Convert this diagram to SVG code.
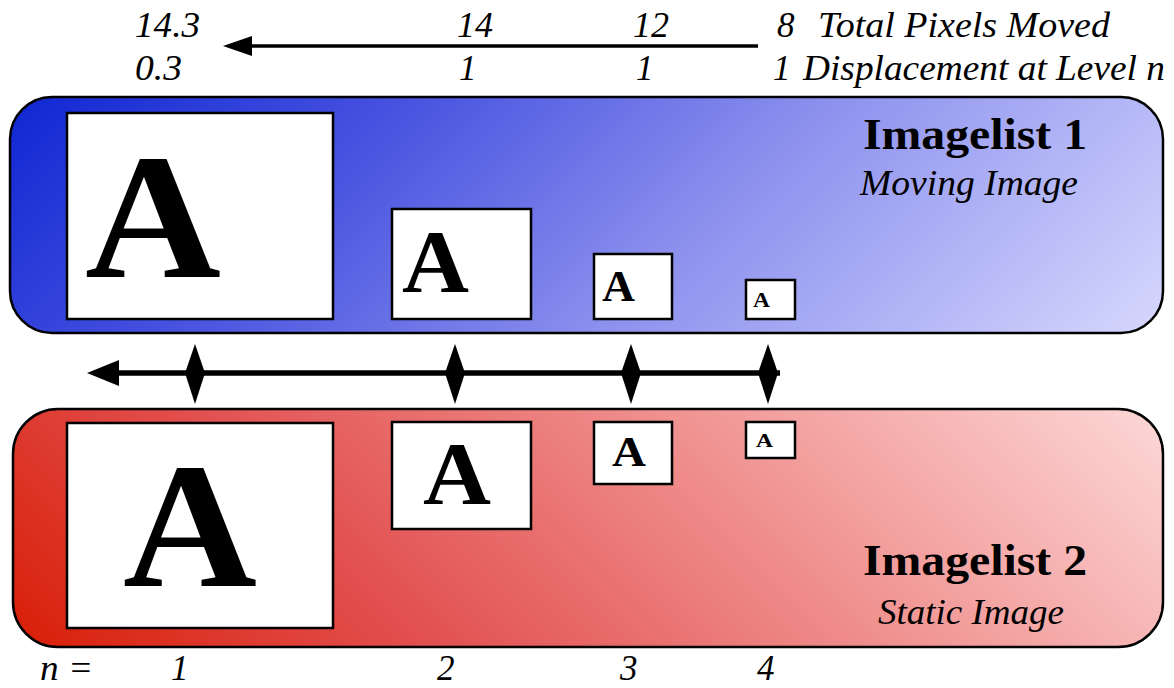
<svg xmlns="http://www.w3.org/2000/svg" width="1174" height="688" viewBox="0 0 1174 688">
<defs>
<linearGradient id="gBlue" gradientUnits="userSpaceOnUse" x1="10" y1="97" x2="705" y2="792">
<stop offset="0" stop-color="#0f26d2"/>
<stop offset="0.3" stop-color="#4a55e0"/>
<stop offset="0.6" stop-color="#8e92ee"/>
<stop offset="1" stop-color="#d6d8fd"/>
</linearGradient>
<linearGradient id="gRed" gradientUnits="userSpaceOnUse" x1="13" y1="647" x2="707" y2="-47">
<stop offset="0" stop-color="#d81e06"/>
<stop offset="0.3" stop-color="#e25050"/>
<stop offset="0.6" stop-color="#ee8a88"/>
<stop offset="1" stop-color="#fdd8d8"/>
</linearGradient>
<style>
.panel{stroke:#000;stroke-width:2.5}
.box{fill:#fff;stroke:#000;stroke-width:2.5}
.A{font-weight:bold;fill:#000}
.num{font-style:italic;font-size:35px;fill:#000}
.title{font-weight:bold;font-size:45px;fill:#000}
.sub{font-style:italic;font-size:36px;fill:#000}
.line{stroke:#000;fill:none}
.diamond{fill:#000}
</style>
</defs>

<g font-family="Liberation Serif, Tinos, Times New Roman, serif">
<g id="header">
<text class="num" x="135" y="37" textLength="65" lengthAdjust="spacingAndGlyphs">14.3</text>
<text class="num" x="457" y="37" textLength="36" lengthAdjust="spacingAndGlyphs">14</text>
<text class="num" x="633" y="37" textLength="36" lengthAdjust="spacingAndGlyphs">12</text>
<text class="num" x="777" y="37">8</text>
<text class="num" x="818" y="37" textLength="292" lengthAdjust="spacingAndGlyphs">Total Pixels Moved</text>
<text class="num" x="135" y="80" textLength="47" lengthAdjust="spacingAndGlyphs">0.3</text>
<text class="num" x="459" y="80">1</text>
<text class="num" x="636" y="80">1</text>
<text class="num" x="773" y="80">1</text>
<text class="num" x="803" y="80" textLength="362" lengthAdjust="spacingAndGlyphs">Displacement at Level n</text>
</g>

<g id="imagelist1">
<rect class="panel" x="10" y="97" width="1153" height="236" rx="42" ry="42" fill="url(#gBlue)"/>
<text class="title" x="863" y="149" textLength="224" lengthAdjust="spacingAndGlyphs">Imagelist 1</text>
<text class="sub" x="860" y="195" textLength="218" lengthAdjust="spacingAndGlyphs">Moving Image</text>
</g>
<g id="img1-1"><rect class="box" x="67" y="113" width="266" height="206"/><text class="A" x="85" y="277" font-size="179" textLength="136" lengthAdjust="spacingAndGlyphs">A</text></g>
<g id="img1-2"><rect class="box" x="392" y="209" width="139" height="110"/><text class="A" x="402" y="291" font-size="89" textLength="67" lengthAdjust="spacingAndGlyphs">A</text></g>
<g id="img1-3"><rect class="box" x="594" y="254" width="78" height="65"/><text class="A" x="602" y="301" font-size="45" textLength="33" lengthAdjust="spacingAndGlyphs">A</text></g>
<g id="img1-4"><rect class="box" x="746" y="280" width="49" height="39"/><text class="A" x="753" y="307" font-size="20" textLength="17" lengthAdjust="spacingAndGlyphs">A</text></g>

<g id="imagelist2">
<rect class="panel" x="13" y="409" width="1150" height="238" rx="45" ry="45" fill="url(#gRed)"/>
<text class="title" x="863" y="575" textLength="224" lengthAdjust="spacingAndGlyphs">Imagelist 2</text>
<text class="sub" x="878" y="624" textLength="186" lengthAdjust="spacingAndGlyphs">Static Image</text>
</g>
<g id="img2-1"><rect class="box" x="67" y="423" width="266" height="205"/><text class="A" x="123" y="586" font-size="178" textLength="134" lengthAdjust="spacingAndGlyphs">A</text></g>
<g id="img2-2"><rect class="box" x="392" y="422" width="139" height="107"/><text class="A" x="423" y="503" font-size="88" textLength="68" lengthAdjust="spacingAndGlyphs">A</text></g>
<g id="img2-3"><rect class="box" x="594" y="422" width="78" height="62"/><text class="A" x="612" y="466" font-size="43" textLength="34" lengthAdjust="spacingAndGlyphs">A</text></g>
<g id="img2-4"><rect class="box" x="746" y="422" width="49" height="36"/><text class="A" x="756" y="447" font-size="19" textLength="17" lengthAdjust="spacingAndGlyphs">A</text></g>

<g id="levels">
<text class="num" x="40" y="680" textLength="53" lengthAdjust="spacingAndGlyphs">n =</text>
<text class="num" x="171" y="680">1</text>
<text class="num" x="437" y="680">2</text>
<text class="num" x="620" y="680">3</text>
<text class="num" x="757" y="680">4</text>
</g>
</g>

<g id="connectors">
<line class="line" x1="758" y1="46" x2="250" y2="46" stroke-width="3.5"/>
<path d="M252,36 L223,46 L252,56 Z" fill="#000"/>
<line class="line" x1="780" y1="373" x2="118" y2="373" stroke-width="5.5"/>
<path d="M119,360 L87,373 L119,386 Z" fill="#000"/>
<path class="diamond" d="M195,344 L205,373 L195,404 L185,373 Z"/>
<path class="diamond" d="M455,344 L465,373 L455,404 L445,373 Z"/>
<path class="diamond" d="M631,344 L641,373 L631,404 L621,373 Z"/>
<path class="diamond" d="M768,344 L778,373 L768,404 L758,373 Z"/>
</g>
</svg>
